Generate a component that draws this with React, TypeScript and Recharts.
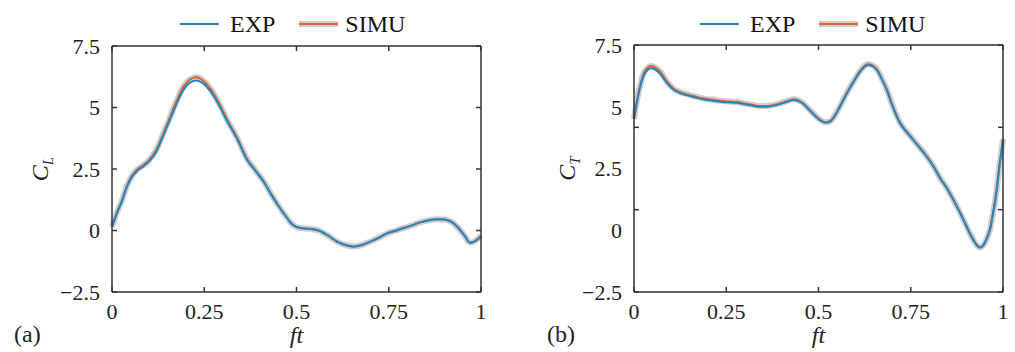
import React from 'react'
import { LineChart, Line, XAxis, YAxis, Legend } from 'recharts'

// 横軸 ft と目盛
const FT_TICKS = [0, 0.25, 0.5, 0.75, 1]
const FT_LABELS = ['0', '0.25', '0.5', '0.75', '1']
const C_TICKS = [-2.5, 0, 2.5, 5, 7.5]
const C_LABELS = ['\u22122.5', '0', '2.5', '5', '7.5']
// (b) の枠の目盛は 3 等分になっている
const CT_BOX_TICKS = [-2.5, 0.8333, 4.1667, 7.5]

// (a) C_L
const CL_FT = [0, 0.013, 0.026, 0.04, 0.053, 0.07, 0.085, 0.1, 0.12, 0.14, 0.157, 0.175, 0.193, 0.21, 0.229, 0.245, 0.265, 0.29, 0.31, 0.34, 0.365, 0.39, 0.41, 0.43, 0.447, 0.47, 0.49, 0.51, 0.537, 0.56, 0.585, 0.61, 0.635, 0.654, 0.675, 0.7, 0.725, 0.745, 0.77, 0.79, 0.815, 0.835, 0.86, 0.88, 0.9, 0.92, 0.935, 0.955, 0.971, 0.985, 1]
const CL_EXP = [0.15, 0.7, 1.15, 1.75, 2.15, 2.45, 2.6, 2.8, 3.2, 3.9, 4.5, 5.15, 5.7, 6.0, 6.1, 6.0, 5.7, 5.1, 4.5, 3.7, 2.9, 2.4, 2.0, 1.5, 1.1, 0.6, 0.23, 0.1, 0.07, 0.0, -0.2, -0.45, -0.6, -0.65, -0.6, -0.45, -0.28, -0.12, 0.0, 0.1, 0.22, 0.33, 0.42, 0.46, 0.45, 0.35, 0.16, -0.2, -0.5, -0.42, -0.24]
const CL_SIMU = [0.15, 0.72, 1.18, 1.8, 2.2, 2.5, 2.66, 2.86, 3.28, 3.98, 4.6, 5.27, 5.83, 6.13, 6.23, 6.12, 5.8, 5.18, 4.56, 3.74, 2.93, 2.42, 2.02, 1.51, 1.1, 0.6, 0.23, 0.1, 0.07, 0.0, -0.2, -0.45, -0.6, -0.65, -0.6, -0.45, -0.28, -0.12, 0.0, 0.1, 0.22, 0.33, 0.42, 0.46, 0.45, 0.35, 0.16, -0.2, -0.5, -0.42, -0.22]

// (b) C_T
const CT_FT = [0, 0.008, 0.015, 0.029, 0.047, 0.07, 0.09, 0.106, 0.125, 0.142, 0.165, 0.187, 0.21, 0.233, 0.255, 0.278, 0.3, 0.323, 0.34, 0.359, 0.378, 0.396, 0.415, 0.432, 0.446, 0.459, 0.472, 0.486, 0.502, 0.518, 0.53, 0.54, 0.558, 0.577, 0.595, 0.613, 0.625, 0.635, 0.647, 0.658, 0.672, 0.685, 0.7, 0.721, 0.74, 0.757, 0.775, 0.794, 0.812, 0.83, 0.848, 0.866, 0.884, 0.902, 0.911, 0.92, 0.93, 0.938, 0.947, 0.957, 0.965, 0.972, 0.979, 0.985, 0.99, 0.995, 1]
const CT_EXP = [4.5, 5.2, 5.7, 6.35, 6.56, 6.35, 5.95, 5.7, 5.55, 5.47, 5.38, 5.3, 5.25, 5.2, 5.18, 5.16, 5.1, 5.04, 5.0, 5.0, 5.04, 5.11, 5.2, 5.27, 5.23, 5.11, 4.92, 4.7, 4.48, 4.35, 4.38, 4.53, 5.0, 5.54, 6.0, 6.42, 6.62, 6.69, 6.63, 6.49, 6.1, 5.68, 5.05, 4.33, 3.95, 3.65, 3.33, 2.97, 2.57, 2.1, 1.7, 1.22, 0.7, 0.13, -0.15, -0.4, -0.62, -0.7, -0.6, -0.3, 0.05, 0.6, 1.22, 1.9, 2.57, 3.1, 3.65]
const CT_SIMU = [4.5, 5.25, 5.76, 6.43, 6.65, 6.43, 6.01, 5.75, 5.59, 5.51, 5.42, 5.34, 5.29, 5.24, 5.21, 5.19, 5.13, 5.07, 5.03, 5.03, 5.07, 5.14, 5.23, 5.3, 5.26, 5.13, 4.94, 4.72, 4.5, 4.37, 4.4, 4.55, 5.02, 5.57, 6.03, 6.45, 6.66, 6.73, 6.67, 6.52, 6.12, 5.7, 5.07, 4.35, 3.97, 3.66, 3.34, 2.98, 2.58, 2.1, 1.7, 1.22, 0.7, 0.13, -0.15, -0.4, -0.62, -0.7, -0.6, -0.3, 0.05, 0.6, 1.22, 1.9, 2.57, 3.12, 3.7]

const SERIF = '"Liberation Serif", "DejaVu Serif", serif'
const BLUE = '#2286c0'
const RED = '#e0602f'
const HALO = '#cdcdcd'
const AXIS = '#333'

const clData = CL_FT.map((ft, i) => ({ ft, exp: CL_EXP[i], simu: CL_SIMU[i] }))
const ctData = CT_FT.map((ft, i) => ({ ft, exp: CT_EXP[i], simu: CT_SIMU[i] }))

const fmtFt = (v: number) => FT_LABELS[FT_TICKS.indexOf(v)] ?? String(v)
const fmtC = (v: number) => C_LABELS[C_TICKS.indexOf(v)] ?? String(v)
const noLabel = () => ''

const tickStyle = { fill: '#222', fontSize: 22, fontFamily: SERIF }

const LegendBox = () => (
  <div style={{ display: 'flex', alignItems: 'center', height: 36, fontFamily: SERIF, fontSize: 24, color: '#111' }}>
    <svg width={40} height={10}>
      <line x1={0} y1={5} x2={39} y2={5} stroke={BLUE} strokeWidth={2} />
    </svg>
    <span style={{ marginLeft: 10 }}>EXP</span>
    <svg width={40} height={10} style={{ marginLeft: 24 }}>
      <line x1={0} y1={5} x2={39} y2={5} stroke={HALO} strokeWidth={6} />
      <line x1={0} y1={5} x2={39} y2={5} stroke={RED} strokeWidth={2} />
    </svg>
    <span style={{ marginLeft: 6 }}>SIMU</span>
  </div>
)

// 縦軸ラベル C_L / C_T
const YLabel = ({ viewBox, sub, dx }: any) => {
  const x = viewBox.x + dx
  const y = viewBox.y + viewBox.height / 2
  return (
    <text x={x} y={y} transform={`rotate(-90, ${x}, ${y})`} textAnchor="middle" fill="#222" fontFamily={SERIF} fontSize={24}>
      <tspan fontStyle="italic">C</tspan>
      <tspan fontStyle="italic" fontSize={15} dy={5}>{sub}</tspan>
    </text>
  )
}

// 横軸ラベル ft とパネル記号
const XLabel = ({ viewBox, tag, tagX }: any) => (
  <g fontFamily={SERIF} fill="#222">
    <text x={viewBox.x + viewBox.width / 2} y={343} textAnchor="middle" fontSize={24} fontStyle="italic">ft</text>
    <text x={tagX} y={342} fontSize={24}>{tag}</text>
  </g>
)

interface PanelProps {
  data: Array<{ ft: number; exp: number; simu: number }>
  width: number
  yAxisWidth: number
  marginTop: number
  marginRight: number
  legendLeft: number
  sub: string
  labelDx: number
  tag: string
  tagX: number
  boxTicks: number[]
}

// 枠の内向き目盛は mirror 軸で描く（幅 0 だと描かれないので 1）
const Panel: React.FC<PanelProps> = (p) => (
  <LineChart width={p.width} height={352} data={p.data} margin={{ top: p.marginTop, right: p.marginRight, left: 0, bottom: 0 }} style={{ fontFamily: SERIF }}>
    <Legend verticalAlign="top" content={<LegendBox />} wrapperStyle={{ left: p.legendLeft, top: 6, width: 'auto' }} />
    <XAxis
      xAxisId="b"
      dataKey="ft"
      type="number"
      domain={[0, 1]}
      ticks={FT_TICKS}
      tickFormatter={fmtFt}
      height={60}
      tickLine={false}
      tickMargin={5}
      tick={tickStyle}
      stroke={AXIS}
      strokeWidth={1.5}
      label={<XLabel tag={p.tag} tagX={p.tagX} />}
    />
    <XAxis xAxisId="bm" dataKey="ft" orientation="bottom" mirror type="number" domain={[0, 1]} ticks={FT_TICKS} height={1} tickFormatter={noLabel} tickSize={5} axisLine={false} stroke={AXIS} strokeWidth={1.5} />
    <XAxis xAxisId="t" dataKey="ft" orientation="top" mirror type="number" domain={[0, 1]} ticks={FT_TICKS} height={1} tickFormatter={noLabel} tickSize={5} stroke={AXIS} strokeWidth={1.5} />
    <YAxis
      yAxisId="l"
      type="number"
      domain={[-2.5, 7.5]}
      ticks={C_TICKS}
      tickFormatter={fmtC}
      width={p.yAxisWidth}
      tickLine={false}
      tickMargin={6}
      tick={tickStyle}
      stroke={AXIS}
      strokeWidth={1.5}
      label={<YLabel sub={p.sub} dx={p.labelDx} />}
    />
    <YAxis yAxisId="lm" orientation="left" mirror type="number" domain={[-2.5, 7.5]} ticks={p.boxTicks} width={1} tickFormatter={noLabel} tickSize={5} axisLine={false} stroke={AXIS} strokeWidth={1.5} />
    <YAxis yAxisId="r" orientation="right" mirror type="number" domain={[-2.5, 7.5]} ticks={p.boxTicks} width={1} tickFormatter={noLabel} tickSize={5} stroke={AXIS} strokeWidth={1.5} />
    {/* 枠用の軸を結び付けるだけの見えない線 */}
    <Line xAxisId="bm" yAxisId="lm" dataKey="exp" stroke="none" dot={false} isAnimationActive={false} legendType="none" />
    <Line xAxisId="t" yAxisId="r" dataKey="exp" stroke="none" dot={false} isAnimationActive={false} legendType="none" />
    <Line xAxisId="b" yAxisId="l" type="monotone" dataKey="simu" stroke={HALO} strokeWidth={6} dot={false} isAnimationActive={false} legendType="none" />
    <Line xAxisId="b" yAxisId="l" type="monotone" dataKey="simu" stroke={RED} strokeWidth={2} dot={false} isAnimationActive={false} name="SIMU" />
    <Line xAxisId="b" yAxisId="l" type="monotone" dataKey="exp" stroke={BLUE} strokeWidth={2} dot={false} isAnimationActive={false} name="EXP" />
  </LineChart>
)

export default function App() {
  return (
    <div style={{ position: 'absolute', left: 0, top: 0, width: 1015, height: 352, background: '#fff', display: 'flex', fontFamily: SERIF }}>
      <Panel data={clData} width={507} yAxisWidth={112} marginTop={10} marginRight={26} legendLeft={180}
        sub="L" labelDx={48} tag="(a)" tagX={14} boxTicks={C_TICKS} />
      <Panel data={ctData} width={508} yAxisWidth={127} marginTop={9} marginRight={12} legendLeft={193}
        sub="T" labelDx={68} tag="(b)" tagX={40} boxTicks={CT_BOX_TICKS} />
    </div>
  )
}
